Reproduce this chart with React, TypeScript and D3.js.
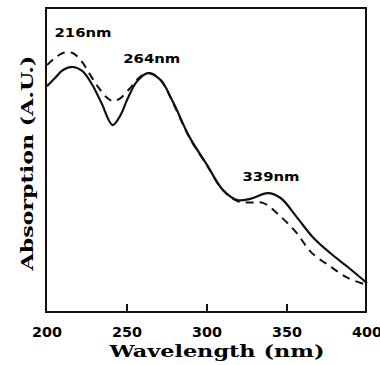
import { useEffect, useRef } from "react";
import * as d3 from "d3";

// spectrum (absorption in arbitrary units, 0-100)
const solidNm = [200, 205, 210, 216, 222, 228, 234, 241, 246, 250, 256, 263, 271, 279, 289, 300, 310, 319, 327, 338, 346, 356, 366, 377, 388, 400];
const solidAbs = [74.3, 77, 79.6, 80.6, 79.3, 75, 68.8, 61.5, 64.8, 69.7, 75.7, 78.6, 76.3, 68.8, 57.6, 48.4, 40.1, 36.8, 37.2, 39.1, 37.5, 31.3, 24.7, 19.4, 14.8, 9.5];

const dashedNm = [200, 205, 210, 216, 222, 227, 232, 237, 241, 245, 252, 258, 264, 271, 279, 289, 300, 310, 319, 327, 335, 345, 356, 365, 377, 388, 400];
const dashedAbs = [81.2, 83.6, 85.2, 85.2, 82.2, 78, 74, 70.7, 69.4, 70, 73.7, 77.3, 78.6, 76.3, 68.5, 57.4, 48.2, 40, 36.5, 36, 35.9, 31.9, 26, 19.7, 15, 11.2, 8.9];

const xTicks = [200, 250, 300, 350, 400];
const peakLabels = ["216nm", "264nm", "339nm"];
// where each label sits (centre wavelength, absorption at its baseline)
const labelNm = [222.5, 265.5, 340];
const labelAbs = [90.5, 82, 43];

export default function App() {
  const ref = useRef<SVGSVGElement>(null);

  useEffect(() => {
    const svg = d3.select(ref.current);
    svg.selectAll("*").remove();

    const left = 47, right = 367, top = 8, bottom = 312;
    const x = d3.scaleLinear().domain([200, 400]).range([left, right]);
    const y = d3.scaleLinear().domain([0, 100]).range([bottom, top]);
    const font = "'DejaVu Sans', sans-serif";

    const line = d3
      .line<[number, number]>()
      .x((d) => x(d[0]))
      .y((d) => y(d[1]))
      .curve(d3.curveCatmullRom);

    svg
      .append("path")
      .datum(d3.zip(dashedNm, dashedAbs) as [number, number][])
      .attr("d", line)
      .attr("fill", "none")
      .attr("stroke", "#111")
      .attr("stroke-width", 2)
      .attr("stroke-dasharray", "8,6");

    svg
      .append("path")
      .datum(d3.zip(solidNm, solidAbs) as [number, number][])
      .attr("d", line)
      .attr("fill", "none")
      .attr("stroke", "#111")
      .attr("stroke-width", 2.2);

    // frame
    svg
      .append("rect")
      .attr("x", left - 1)
      .attr("y", top)
      .attr("width", right - left)
      .attr("height", bottom - top)
      .attr("fill", "none")
      .attr("stroke", "#111")
      .attr("stroke-width", 2);

    // inward ticks on the bottom axis
    svg
      .append("g")
      .selectAll("line")
      .data(xTicks.slice(1, -1))
      .join("line")
      .attr("x1", (d) => x(d))
      .attr("x2", (d) => x(d))
      .attr("y1", bottom)
      .attr("y2", bottom - 8)
      .attr("stroke", "#111")
      .attr("stroke-width", 2);

    svg
      .append("g")
      .selectAll("text")
      .data(xTicks)
      .join("text")
      .attr("x", (d) => x(d))
      .attr("y", 337)
      .attr("text-anchor", "middle")
      .attr("textLength", 30)
      .attr("lengthAdjust", "spacingAndGlyphs")
      .style("font", `bold 14px ${font}`)
      .text((d) => d);

    svg
      .append("text")
      .attr("x", 217)
      .attr("y", 357)
      .attr("text-anchor", "middle")
      .attr("textLength", 215)
      .attr("lengthAdjust", "spacingAndGlyphs")
      .style("font", `bold 17px 'DejaVu Serif', serif`)
      .text("Wavelength (nm)");

    svg
      .append("text")
      .attr("transform", "translate(33,163) rotate(-90)")
      .attr("text-anchor", "middle")
      .attr("textLength", 215)
      .attr("lengthAdjust", "spacingAndGlyphs")
      .style("font", `bold 16px 'DejaVu Serif', serif`)
      .text("Absorption (A.U.)");

    svg
      .append("g")
      .selectAll("text")
      .data(peakLabels)
      .join("text")
      .attr("x", (d, i) => x(labelNm[i]))
      .attr("y", (d, i) => y(labelAbs[i]))
      .attr("text-anchor", "middle")
      .attr("textLength", 57)
      .attr("lengthAdjust", "spacingAndGlyphs")
      .style("font", `bold 12px ${font}`)
      .text((d) => d);
  }, []);

  return (
    <svg
      ref={ref}
      width={380}
      height={365}
      style={{ position: "absolute", left: 0, top: 0, background: "#fff" }}
    />
  );
}
